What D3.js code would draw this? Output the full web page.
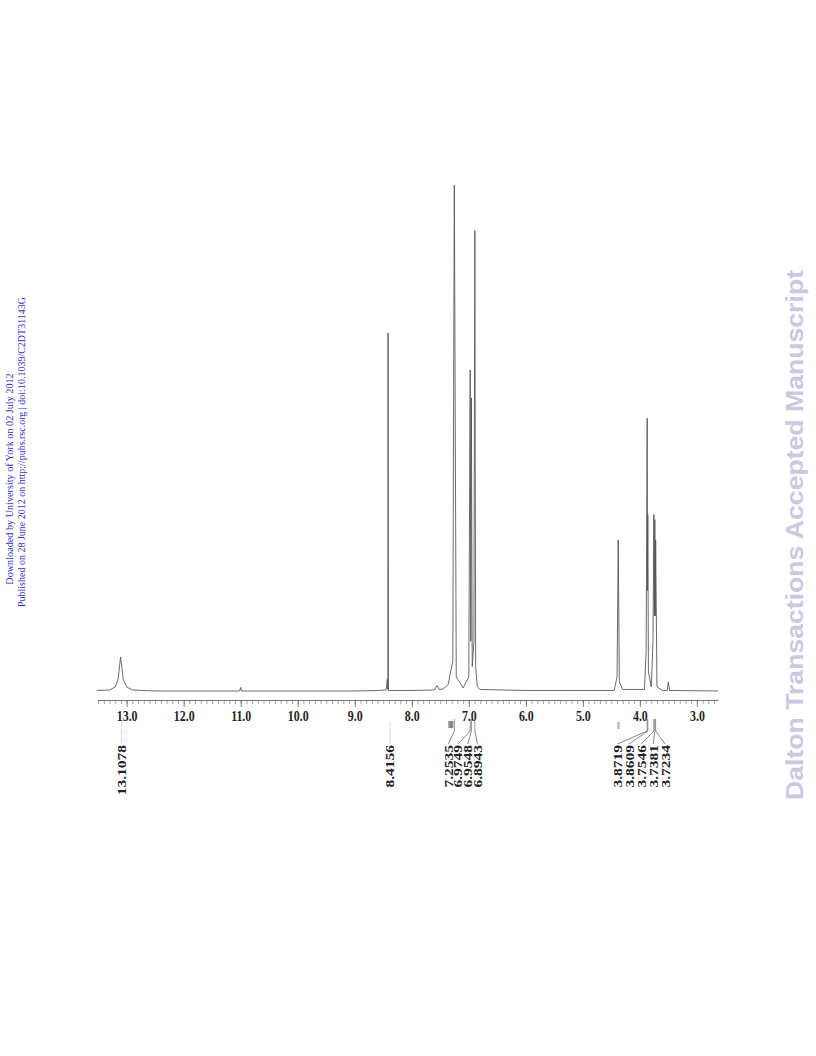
<!DOCTYPE html>
<html>
<head>
<meta charset="utf-8">
<script src="https://cdn.jsdelivr.net/npm/d3@7"></script>
<style>
  html, body { margin: 0; padding: 0; background: #fff; }
  svg { display: block; }
</style>
</head>
<body>
<svg id="chart" width="816" height="1056"></svg>
<script>
// ---- Data ----
// Spectrum trace: [chemical shift (ppm), relative intensity]
const tracePpm = [13.52, 13.30, 13.20, 13.15, 13.12, 13.107, 13.09, 13.06, 13.00, 12.90, 12.50,
  11.02, 11.00, 10.98, 9.00, 8.60, 8.45, 8.43, 8.42, 8.4156, 8.41, 8.00, 7.60, 7.56, 7.52, 7.45,
  7.36, 7.32, 7.28, 7.265, 7.2535, 7.24, 7.22, 7.10, 7.00, 6.98, 6.9749, 6.965, 6.9548, 6.94,
  6.91, 6.8943, 6.88, 6.85, 6.80, 6.00, 5.00, 4.45, 4.40, 4.38, 4.36, 4.30, 3.92, 3.89, 3.8719,
  3.865, 3.8609, 3.85, 3.80, 3.77, 3.7546, 3.745, 3.7381, 3.73, 3.7234, 3.70, 3.60, 3.52, 3.50,
  3.48, 2.63];
const traceInt = [0.3, 0.4, 1.0, 2.5, 5.5, 6.9, 5.5, 2.5, 1.0, 0.4, 0.2,
  0.2, 0.9, 0.2, 0.2, 0.3, 0.4, 2.5, 0.5, 70.8, 0.3, 0.3, 0.4, 1.3, 0.5, 0.6,
  1.5, 4.0, 6.0, 63.0, 100.0, 60.0, 3.0, 0.8, 3.0, 55.0, 63.5, 10.0, 58.0, 5.0,
  10.0, 91.0, 5.0, 1.0, 0.5, 0.3, 0.3, 0.3, 3.0, 30.0, 2.0, 0.5, 0.5, 8.0, 54.0,
  20.0, 35.0, 4.0, 1.0, 10.0, 35.0, 15.0, 34.0, 15.0, 30.0, 1.0, 0.3, 0.3, 2.0,
  0.3, 0.2];

// Peak labels (ppm values printed under the spectrum)
const peakLabels = ["13.1078", "8.4156", "7.2535", "6.9749", "6.9548", "6.8943",
  "3.8719", "3.8609", "3.7546", "3.7381", "3.7234"];
const peakGroups = [0, 1, 2, 2, 2, 2, 3, 3, 3, 3, 3];

// Axis tick labels
const majorTicks = [13, 12, 11, 10, 9, 8, 7, 6, 5, 4, 3];

const sideLine1 = "Downloaded by University of York on 02 July 2012";
const sideLine2 = "Published on 28 June 2012 on http://pubs.rsc.org | doi:10.1039/C2DT31143G";
const watermark = "Dalton Transactions Accepted Manuscript";

// ---- Drawing ----
const svg = d3.select("#chart");
const x = d3.scaleLinear().domain([13.52, 2.63]).range([97, 718]);
const y = d3.scaleLinear().domain([0, 100]).range([692, 185]);
const axisY = 700;

// spectrum line
const pts = tracePpm.map((p, i) => [p, traceInt[i]]);
svg.append("path")
  .datum(pts)
  .attr("fill", "none")
  .attr("stroke", "#505050")
  .attr("stroke-width", 0.85)
  .attr("stroke-linejoin", "round")
  .attr("d", d3.line().x(d => x(d[0])).y(d => y(d[1])));

// minor ticks
const minorVals = d3.range(135, 26, -1).map(v => v / 10).filter(v => v <= 13.5 && v >= 2.7);
const minorAxis = d3.axisBottom(x).tickValues(minorVals).tickSize(4).tickFormat("").tickSizeOuter(0);
const gMinor = svg.append("g").attr("transform", `translate(0,${axisY})`).call(minorAxis);
gMinor.selectAll(".tick line").attr("stroke", "#777").attr("stroke-width", 0.7);
gMinor.select(".domain").attr("stroke", "#666").attr("stroke-width", 0.9);

// major ticks with labels
const majorAxis = d3.axisBottom(x).tickValues(majorTicks).tickSize(7).tickPadding(4)
  .tickFormat(d3.format(".1f")).tickSizeOuter(0);
const gMajor = svg.append("g").attr("transform", `translate(0,${axisY})`).call(majorAxis);
gMajor.select(".domain").remove();
gMajor.selectAll(".tick line").attr("stroke", "#666").attr("stroke-width", 0.8);
gMajor.selectAll(".tick text")
  .attr("fill", "#222")
  .attr("font-family", "'Liberation Serif', 'DejaVu Serif', serif")
  .attr("font-weight", "bold")
  .attr("font-size", 14.5)
  .attr("transform", "scale(0.82,1)");

// peak label layout (leader lines fan out to the labels)
const labelTop = 744;
const groupLayout = {0: {shift: 1, gap: 0}, 1: {shift: 2, gap: 0}, 2: {shift: -6, gap: 9.7}, 3: {shift: -30, gap: 12}};
const groupFirst = {};
peakLabels.forEach((l, i) => { if (!(peakGroups[i] in groupFirst)) groupFirst[peakGroups[i]] = i; });
const labelX = peakLabels.map((l, i) => {
  const g = peakGroups[i], f = groupFirst[g];
  return x(+peakLabels[f]) + groupLayout[g].shift + (i - f) * groupLayout[g].gap;
});

const gLab = svg.append("g");
peakLabels.forEach((l, i) => {
  const g = peakGroups[i];
  const px = x(+l);
  if (g <= 1) {
    gLab.append("line")
      .attr("x1", labelX[i]).attr("x2", labelX[i])
      .attr("y1", 722).attr("y2", labelTop - 1)
      .attr("stroke", "#aaa").attr("stroke-width", 0.8).attr("stroke-dasharray", "1,1");
  } else {
    gLab.append("line")
      .attr("x1", px).attr("x2", px).attr("y1", 719).attr("y2", 731)
      .attr("stroke", "#777").attr("stroke-width", 0.8);
    gLab.append("line")
      .attr("x1", px).attr("x2", labelX[i]).attr("y1", 731).attr("y2", labelTop)
      .attr("stroke", "#555").attr("stroke-width", 0.7);
  }
  gLab.append("text")
    .attr("transform", `translate(${labelX[i]},${labelTop + 1}) rotate(-90) scale(1,0.8)`)
    .attr("text-anchor", "end")
    .attr("dy", "0.35em")
    .attr("font-family", "'Liberation Serif', 'DejaVu Serif', serif")
    .attr("font-weight", "bold")
    .attr("font-size", 15.5)
    .attr("fill", "#222")
    .text(l);
});
// integration marks
gLab.append("rect").attr("x", x(7.2535) - 6).attr("y", 721).attr("width", 5).attr("height", 7).attr("fill", "#888");
gLab.append("rect").attr("x", x(4.38) - 1).attr("y", 722).attr("width", 2.5).attr("height", 7).attr("fill", "#bbb");

// side texts
svg.append("text")
  .attr("transform", "translate(9,479) rotate(-90)")
  .attr("text-anchor", "middle").attr("dy", "0.35em")
  .attr("font-family", "'Liberation Serif', serif").attr("font-size", 10.2)
  .attr("fill", "#2f2fd6").text(sideLine1);
svg.append("text")
  .attr("transform", "translate(21,452) rotate(-90)")
  .attr("text-anchor", "middle").attr("dy", "0.35em")
  .attr("font-family", "'Liberation Serif', serif").attr("font-size", 10)
  .attr("fill", "#2f2fd6").text(sideLine2);
svg.append("text")
  .attr("transform", "translate(795,535) rotate(-90)")
  .attr("text-anchor", "middle").attr("dy", "0.35em")
  .attr("font-family", "'Liberation Sans', Arial, sans-serif").attr("font-weight", "bold")
  .attr("font-size", 23).attr("fill", "#c9c9e3")
  .attr("textLength", 530).attr("lengthAdjust", "spacingAndGlyphs")
  .text(watermark);
</script>
</body>
</html>
